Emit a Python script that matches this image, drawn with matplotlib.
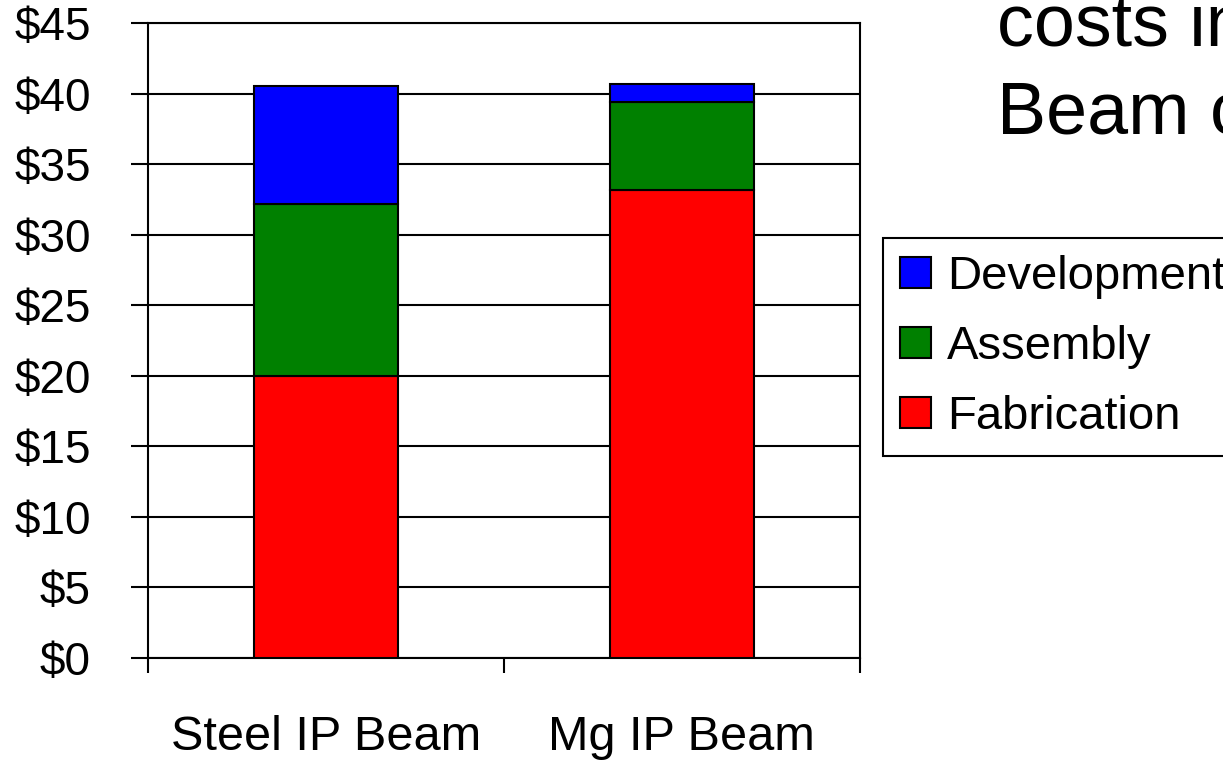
import numpy as np
import matplotlib.pyplot as plt

# Schrift wie im Original (Arial-ähnlich)
plt.rcParams.update({'font.family': ['Liberation Sans', 'DejaVu Sans'], 'font.size': 34})

# Daten
beams = ['Steel IP Beam', 'Mg IP Beam']
fabrication = [20.0, 33.2]
assembly = [12.2, 6.2]
development = [8.35, 1.3]

x = np.arange(len(beams))
bottom_dev = np.array(fabrication) + np.array(assembly)

fig = plt.figure(figsize=(12.23, 7.61), dpi=100)
ax = fig.add_axes([0.121, 0.1353, 0.582, 0.8345])

w = 0.405
ax.bar(x, fabrication, w, color='#FF0000', edgecolor='black', lw=1.5, label='Fabrication', zorder=3)
ax.bar(x, assembly, w, bottom=fabrication, color='#008000', edgecolor='black', lw=1.5, label='Assembly', zorder=3)
ax.bar(x, development, w, bottom=bottom_dev, color='#0000FF', edgecolor='black', lw=1.5, label='Development', zorder=3)

# Achsen
ax.set_xlim(-0.5, 1.5)
ax.set_ylim(0, 45)
ax.set_yticks(np.arange(0, 46, 5))
ax.set_yticklabels(['$%d' % v for v in range(0, 46, 5)], fontsize=33)
ax.yaxis.grid(True, color='black', lw=1.5, zorder=0)
ax.tick_params(axis='y', direction='out', length=12, width=1.5, pad=29)

ax.set_xticks(x)
ax.set_xticklabels(beams, fontsize=35)
ax.set_xticks([-0.5, 0.5, 1.5], minor=True)
ax.tick_params(axis='x', which='major', length=0, pad=41)
ax.tick_params(axis='x', which='minor', direction='out', length=11, width=1.5)
for s in ax.spines.values():
    s.set_linewidth(1.5)

# Legende
h, l = ax.get_legend_handles_labels()
leg = fig.legend(h[::-1], l[::-1], loc='upper left', bbox_to_anchor=(883 / 1223, 1 - 238 / 761),
                 frameon=True, fancybox=False, edgecolor='black', framealpha=1,
                 handlelength=0.66, handleheight=0.64, handletextpad=0.34,
                 labelspacing=0.55, borderpad=0.36, borderaxespad=0)
leg.get_frame().set_linewidth(1.5)

# Titeltext (rechts abgeschnitten wie im Original)
fig.text(997 / 1223, 1 - 45 / 761, 'costs in', fontsize=53, va='baseline')
fig.text(997 / 1223, 1 - 133 / 761, 'Beam c', fontsize=53, va='baseline')

plt.savefig('out.png', dpi=100)
